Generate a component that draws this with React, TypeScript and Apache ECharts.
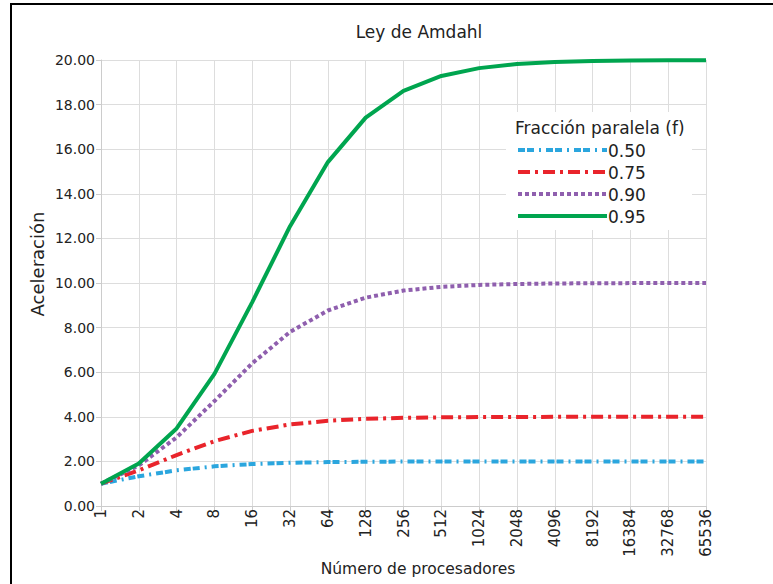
import React, { useEffect, useRef } from "react";
import * as echarts from "echarts";

const categories = ["1", "2", "4", "8", "16", "32", "64", "128", "256", "512", "1024", "2048", "4096", "8192", "16384", "32768", "65536"];
const yTicks = [0, 2, 4, 6, 8, 10, 12, 14, 16, 18, 20];
const legendTitle = "Fracción paralela (f)";
const seriesNames = ["0.50", "0.75", "0.90", "0.95"];
const s050 = [1.0, 1.333, 1.6, 1.778, 1.882, 1.939, 1.969, 1.984, 1.992, 1.996, 1.998, 1.999, 2.0, 2.0, 2.0, 2.0, 2.0];
const s075 = [1.0, 1.6, 2.286, 2.909, 3.368, 3.657, 3.821, 3.908, 3.954, 3.977, 3.988, 3.994, 3.997, 3.999, 3.999, 4.0, 4.0];
const s090 = [1.0, 1.818, 3.077, 4.706, 6.4, 7.805, 8.767, 9.343, 9.66, 9.827, 9.913, 9.956, 9.978, 9.989, 9.995, 9.997, 9.999];
const s095 = [1.0, 1.905, 3.478, 5.926, 9.143, 12.549, 15.422, 17.415, 18.618, 19.284, 19.636, 19.816, 19.908, 19.954, 19.977, 19.988, 19.994];

const seriesData = [s050, s075, s090, s095];
const colors = ["#2ba6de", "#e9242b", "#8f5fae", "#00a54f"];
const dashes: any[] = [[7, 2, 7, 5, 2, 5], [12, 5, 3, 5], [4, 3], "solid"];

const FONT = "DejaVu Sans";

export default function App() {
  const ref = useRef<HTMLDivElement>(null);
  useEffect(() => {
    if (!ref.current) return;
    const chart = echarts.init(ref.current, undefined, { renderer: "svg" });
    const legendX = 518;
    const legendRows = [150, 172, 194, 216];
    const graphic: any[] = [
      {
        type: "rect",
        shape: { x: 11, y: 4, width: 800, height: 620 },
        style: { fill: "none", stroke: "#000", lineWidth: 2 },
        silent: true,
      },
      {
        type: "text",
        x: 419,
        y: 32,
        style: { text: "Ley de Amdahl", font: `17px "${FONT}"`, fill: "#222", align: "center", verticalAlign: "middle" },
      },
      {
        type: "text",
        x: 418,
        y: 569,
        style: { text: "Número de procesadores", font: `15.5px "${FONT}"`, fill: "#222", align: "center", verticalAlign: "middle" },
      },
      {
        type: "text",
        x: 37,
        y: 264,
        rotation: Math.PI / 2,
        style: { text: "Aceleración", font: `18px "${FONT}"`, fill: "#222", align: "center", verticalAlign: "middle" },
      },
      {
        type: "rect",
        shape: { x: 506, y: 112, width: 186, height: 118 },
        style: { fill: "#fff" },
        z: 10,
      },
      {
        type: "text",
        x: 515,
        y: 128,
        z: 11,
        style: { text: legendTitle, font: `17px "${FONT}"`, fill: "#222", align: "left", verticalAlign: "middle" },
      },
    ];
    seriesNames.forEach((n, i) => {
      graphic.push({
        type: "line",
        z: 11,
        shape: { x1: legendX, y1: legendRows[i], x2: 607, y2: legendRows[i] },
        style: { stroke: colors[i], lineWidth: 4, lineDash: dashes[i] === "solid" ? null : dashes[i] },
      });
      graphic.push({
        type: "text",
        z: 11,
        x: 608,
        y: legendRows[i] + 1,
        style: { text: n, font: `17px "${FONT}"`, fill: "#222", align: "left", verticalAlign: "middle" },
      });
    });

    chart.setOption({
      animation: false,
      backgroundColor: "#fff",
      textStyle: { fontFamily: FONT },
      grid: { left: 101, right: 67, top: 60, bottom: 78, containLabel: false },
      xAxis: {
        type: "category",
        data: categories,
        boundaryGap: false,
        axisLine: { show: true, lineStyle: { color: "#ccc", width: 1 } },
        axisTick: { show: true, length: 5, alignWithLabel: true, lineStyle: { color: "#ccc" } },
        axisLabel: { rotate: 90, fontSize: 15, color: "#222", margin: 3, interval: 0, fontFamily: FONT },
        splitLine: { show: true, lineStyle: { color: "#ddd", width: 1 } },
      },
      yAxis: {
        type: "value",
        min: yTicks[0],
        max: yTicks[yTicks.length - 1],
        interval: 2,
        axisLine: { show: true, lineStyle: { color: "#ccc", width: 1 } },
        axisTick: { show: true, length: 5, lineStyle: { color: "#ccc" } },
        axisLabel: { fontSize: 14, color: "#222", margin: 6, formatter: (v: number) => v.toFixed(2), fontFamily: FONT },
        splitLine: { show: true, lineStyle: { color: "#ddd", width: 1 } },
      },
      series: seriesNames.map((n, i) => ({
        name: n,
        type: "line",
        data: seriesData[i],
        showSymbol: false,
        symbol: "none",
        smooth: false,
        lineStyle: { color: colors[i], width: 4, type: dashes[i] },
        itemStyle: { color: colors[i] },
        z: 2 + i,
      })),
      graphic,
    });
    return () => chart.dispose();
  }, []);
  return (
    <div
      ref={ref}
      style={{ position: "fixed", left: 0, top: 0, width: 773, height: 584 }}
    />
  );
}
